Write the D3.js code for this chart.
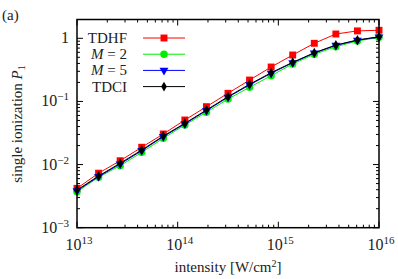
<!doctype html>
<html>
<head>
<script src="https://cdnjs.cloudflare.com/ajax/libs/d3/7.8.5/d3.min.js"></script>
<style>
  body { margin: 0; background: #fff; }
  svg text { font-family: "Liberation Serif", "DejaVu Serif", "Times New Roman", Times, serif; }
</style>
</head>
<body>
<svg id="chart" width="398" height="279"></svg>
<script>
// intensities: 15 points, log-spaced from 1e13 to 1e16
var intensity = [1e13, 1.638e13, 2.683e13, 4.394e13, 7.197e13, 1.179e14, 1.931e14, 3.162e14,
                 5.179e14, 8.483e14, 1.389e15, 2.276e15, 3.728e15, 6.105e15, 1e16];
var tdhf = [4.2e-3, 7.3e-3, 0.0115, 0.0188, 0.0305, 0.0508, 0.0826, 0.1345, 0.218, 0.351, 0.544, 0.833, 1.17, 1.31, 1.34];
var m2   = [3.7e-3, 6.3e-3, 0.0096, 0.0156, 0.0261, 0.0424, 0.0673, 0.109, 0.1675, 0.256, 0.392, 0.558, 0.736, 0.906, 1.037];
var m5   = [3.85e-3, 6.45e-3, 0.0102, 0.0166, 0.0277, 0.0442, 0.0715, 0.1165, 0.183, 0.279, 0.41, 0.582, 0.772, 0.93, 1.05];
var tdci = [3.95e-3, 6.6e-3, 0.0105, 0.017, 0.0283, 0.0451, 0.0731, 0.119, 0.187, 0.285, 0.417, 0.591, 0.783, 0.94, 1.06];

var xTickExp = [13, 14, 15, 16];
var yTickExp = [-3, -2, -1, 0];

var series = [
  {name: "TDHF", values: tdhf, color: "#ff0000", shape: d3.symbolSquare, size: 48, italic: false},
  {name: "M = 2", values: m2, color: "#00ee00", shape: d3.symbolCircle, size: 44, italic: true},
  {name: "M = 5", values: m5, color: "#0000ff", shape: d3.symbolTriangle, size: 34, italic: true},
  {name: "TDCI", values: tdci, color: "#000000", shape: d3.symbolDiamond, size: 28, italic: false}
];

var pLeft = 77, pRight = 379, pTop = 19.5, pBottom = 227.7;
var svg = d3.select("#chart");

var x = d3.scaleLog().domain([1e13, 1e16]).range([pLeft, pRight]);
var y = d3.scaleLog().domain([1e-3, 1]).range([pBottom, 38.3]);

// minor and major ticks on all four sides, pointing inward
function minorVals(lo, hi) {
  var out = [];
  for (var e = lo; e < hi; e++)
    for (var m = 2; m <= 9; m++) out.push(m * Math.pow(10, e));
  return out;
}
var xMinor = minorVals(13, 16);
var yMinor = minorVals(-3, 1).filter(v => y(v) >= pTop);
var xMajor = xTickExp.map(e => Math.pow(10, e));
var yMajor = yTickExp.map(e => Math.pow(10, e));

var tk = svg.append("g").attr("stroke", "#000").attr("stroke-width", 1);
function xTick(v, len) {
  tk.append("line").attr("x1", x(v)).attr("x2", x(v)).attr("y1", pBottom).attr("y2", pBottom - len);
  tk.append("line").attr("x1", x(v)).attr("x2", x(v)).attr("y1", pTop).attr("y2", pTop + len);
}
function yTick(v, len) {
  tk.append("line").attr("y1", y(v)).attr("y2", y(v)).attr("x1", pLeft).attr("x2", pLeft + len);
  tk.append("line").attr("y1", y(v)).attr("y2", y(v)).attr("x1", pRight).attr("x2", pRight - len);
}
xMinor.forEach(v => xTick(v, 3));
xMajor.forEach(v => xTick(v, 6));
yMinor.forEach(v => yTick(v, 3));
yMajor.forEach(v => yTick(v, 6));

// tick labels
xTickExp.forEach(e => {
  var t = svg.append("text").attr("x", x(Math.pow(10, e)) + 2).attr("y", 250)
    .attr("text-anchor", "middle").attr("fill", "#222").style("font-size", "16px");
  t.append("tspan").text("10");
  t.append("tspan").attr("dy", -6).style("font-size", "11px").text(e);
});
yTickExp.forEach(e => {
  var t = svg.append("text").attr("x", 69).attr("y", y(Math.pow(10, e)) + 5)
    .attr("text-anchor", "end").attr("fill", "#222").style("font-size", "16px");
  if (e === 0) { t.text("1"); return; }
  t.append("tspan").text("10");
  t.append("tspan").attr("dy", -6).style("font-size", "11px").text("\u2212" + (-e));
});

// series
var line = d3.line().x((d, i) => x(intensity[i])).y(d => y(d));
series.forEach(s => {
  svg.append("path").datum(s.values).attr("d", line)
    .attr("fill", "none").attr("stroke", s.color).attr("stroke-width", 1);
  svg.selectAll(null).data(s.values).enter().append("path")
    .attr("d", d3.symbol().type(s.shape).size(s.size))
    .attr("transform", (d, i) => "translate(" + x(intensity[i]) + "," + y(d) + ")" +
      (s.shape === d3.symbolTriangle ? " rotate(180)" : ""))
    .attr("fill", s.color);
});

// legend
var lg = svg.append("g").attr("transform", "translate(0,38)");
series.forEach((s, i) => {
  var yy = i * 16.2;
  var t = lg.append("text").attr("x", 127).attr("y", yy + 5).attr("text-anchor", "end")
    .attr("fill", "#222").style("font-size", "15px");
  if (s.italic) {
    t.append("tspan").style("font-style", "italic").text("M");
    t.append("tspan").text(" = " + s.name.split("= ")[1]);
  } else t.text(s.name);
  lg.append("line").attr("x1", 143).attr("x2", 185).attr("y1", yy).attr("y2", yy)
    .attr("stroke", s.color).attr("stroke-width", 1);
  lg.append("path").attr("d", d3.symbol().type(s.shape).size(s.size)())
    .attr("transform", "translate(164," + yy + ")" + (s.shape === d3.symbolTriangle ? " rotate(180)" : ""))
    .attr("fill", s.color);
});

// frame
svg.append("rect").attr("x", pLeft).attr("y", pTop).attr("width", pRight - pLeft).attr("height", pBottom - pTop)
  .attr("fill", "none").attr("stroke", "#000").attr("stroke-width", 1.5);

// axis titles
var xt = svg.append("text").attr("x", 228).attr("y", 272).attr("text-anchor", "middle")
  .attr("fill", "#222").style("font-size", "15px");
xt.append("tspan").text("intensity [W/cm");
xt.append("tspan").attr("dy", -5).style("font-size", "10px").text("2");
xt.append("tspan").attr("dy", 5).text("]");

var yt = svg.append("text").attr("transform", "translate(22,124) rotate(-90)").attr("text-anchor", "middle")
  .attr("fill", "#222").style("font-size", "15px");
yt.append("tspan").text("single ionization ");
yt.append("tspan").style("font-style", "italic").text("P");
yt.append("tspan").attr("dy", 3).style("font-size", "10px").text("1");

svg.append("text").attr("x", 2).attr("y", 20).attr("fill", "#222").style("font-size", "15px").text("(a)");
</script>
</body>
</html>
